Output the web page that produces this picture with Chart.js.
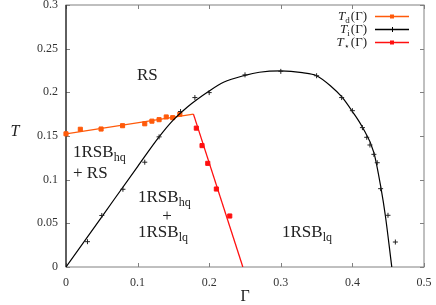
<!DOCTYPE html>
<html>
<head>
<meta charset="utf-8">
<script src="https://cdn.jsdelivr.net/npm/chart.js@4.4.1/dist/chart.umd.min.js"></script>
<style>
  html, body { margin: 0; padding: 0; background: #fff; }
  #wrap { width: 436px; height: 305px; }
</style>
</head>
<body>
<div id="wrap"><canvas id="c"></canvas></div>
<script>
// T_d(Γ): measured points and fitted line
const tdGamma = [0, 0.02, 0.049, 0.079, 0.11, 0.12, 0.13, 0.14, 0.149, 0.159];
const tdT = [0.1525, 0.1577, 0.158, 0.1618, 0.164, 0.167, 0.1687, 0.1718, 0.171, 0.175];
const tdFitGamma = [0, 0.178];
const tdFitT = [0.1525, 0.175];

// T_i(Γ): measured points and curve
const tiGamma = [0.03, 0.05, 0.0795, 0.11, 0.13, 0.16, 0.18, 0.2, 0.25, 0.3, 0.35, 0.385, 0.4,
  0.414, 0.42, 0.4245, 0.43, 0.4347, 0.4394, 0.4497, 0.46];
const tiT = [0.029, 0.059, 0.089, 0.12, 0.149, 0.178, 0.194, 0.1997, 0.22, 0.224, 0.219, 0.194, 0.179,
  0.1596, 0.1485, 0.1397, 0.129, 0.1194, 0.0897, 0.0592, 0.0286];
const tiFitGamma = [0, 0.05, 0.1, 0.13, 0.15, 0.17, 0.2, 0.22, 0.25, 0.27, 0.3, 0.33, 0.35,
  0.37, 0.385, 0.4, 0.414, 0.43, 0.44, 0.446, 0.455];
const tiFitT = [0, 0.0575, 0.115, 0.149, 0.1685, 0.1835, 0.2015, 0.2115, 0.2195, 0.223, 0.2245, 0.2225, 0.219,
  0.207, 0.195, 0.178, 0.16, 0.131, 0.09, 0.059, 0];

// T_*(Γ)
const tsGamma = [0.182, 0.19, 0.198, 0.21, 0.2287];
const tsT = [0.159, 0.139, 0.1187, 0.0893, 0.0584];
const tsFitGamma = [0.178, 0.247];
const tsFitT = [0.175, 0];

const xTicks = [0, 0.1, 0.2, 0.3, 0.4, 0.5];
const yTicks = [0, 0.05, 0.1, 0.15, 0.2, 0.25, 0.3];

const ORANGE = "#ff5a0a";
const RED = "#ff1010";
const SERIF = "'Liberation Serif', 'DejaVu Serif', serif";

const pts = (xs, ys) => xs.map((x, i) => ({ x, y: ys[i] }));

function drawSub(ctx, main, sub, x, y, size) {
  ctx.font = size + "px " + SERIF;
  ctx.fillText(main, x, y);
  const w = ctx.measureText(main).width;
  ctx.font = Math.round(size * 0.7) + "px " + SERIF;
  ctx.fillText(sub, x + w, y + size * 0.25);
}

const decorations = {
  id: "decorations",
  beforeDatasetsDraw(chart) {
    const { ctx, chartArea: a, scales } = chart;
    ctx.save();
    ctx.lineWidth = 1;
    ctx.strokeStyle = "#808080";
    ctx.strokeRect(a.left, a.top, a.right - a.left, a.bottom - a.top);
    ctx.beginPath();
    for (const v of xTicks) {
      const px = Math.round(scales.x.getPixelForValue(v)) + 0.5;
      ctx.moveTo(px, a.bottom); ctx.lineTo(px, a.bottom - 4);
      ctx.moveTo(px, a.top); ctx.lineTo(px, a.top + 4);
    }
    for (const v of yTicks) {
      const py = Math.round(scales.y.getPixelForValue(v)) + 0.5;
      ctx.moveTo(a.left, py); ctx.lineTo(a.left + 4, py);
      ctx.moveTo(a.right, py); ctx.lineTo(a.right - 4, py);
    }
    ctx.stroke();
    ctx.strokeStyle = "#000";
    ctx.beginPath();
    ctx.moveTo(a.left, a.top); ctx.lineTo(a.left, a.bottom);
    ctx.stroke();
    ctx.restore();
  },
  afterDatasetsDraw(chart) {
    const { ctx } = chart;
    ctx.save();
    ctx.fillStyle = "#222";
    ctx.textBaseline = "alphabetic";
    ctx.textAlign = "left";

    // region labels
    ctx.font = "17px " + SERIF;
    ctx.fillText("RS", 137, 80);
    drawSub(ctx, "1RSB", "hq", 73, 157, 17);
    ctx.font = "17px " + SERIF;
    ctx.fillText("+ RS", 73, 178);
    drawSub(ctx, "1RSB", "hq", 138, 202, 17);
    ctx.font = "17px " + SERIF;
    ctx.textAlign = "center";
    ctx.fillText("+", 167, 221);
    ctx.textAlign = "left";
    drawSub(ctx, "1RSB", "lq", 138, 237, 17);
    drawSub(ctx, "1RSB", "lq", 282, 237, 17);

    // axis titles
    ctx.textAlign = "center";
    ctx.textBaseline = "middle";
    ctx.font = "italic 16px " + SERIF;
    ctx.fillText("T", 15, 132);
    ctx.font = "16px " + SERIF;
    ctx.fillText("\u0393", 245, 297);

    // legend
    const rows = [
      { sub: "d", color: ORANGE, mark: "rect", y: 16 },
      { sub: "i", color: "#000", mark: "cross", y: 29 },
      { sub: "\u22c6", color: RED, mark: "rect", y: 42 },
    ];
    ctx.textBaseline = "alphabetic";
    ctx.textAlign = "left";
    for (const r of rows) {
      ctx.font = "italic 13px " + SERIF;
      const wT = ctx.measureText("T").width;
      ctx.font = "9px " + SERIF;
      const wS = ctx.measureText(r.sub).width;
      ctx.font = "13px " + SERIF;
      const wG = ctx.measureText("(\u0393)").width;
      let x = 367 - (wT + wS + wG + 1);
      const base = r.y + 4;
      ctx.fillStyle = "#222";
      ctx.font = "italic 13px " + SERIF;
      ctx.fillText("T", x, base);
      x += wT;
      ctx.font = "9px " + SERIF;
      ctx.fillText(r.sub, x, base + 3);
      x += wS + 1;
      ctx.font = "13px " + SERIF;
      ctx.fillText("(\u0393)", x, base);

      ctx.strokeStyle = r.color;
      ctx.lineWidth = 1.3;
      ctx.beginPath();
      ctx.moveTo(375, r.y + 0.5); ctx.lineTo(409, r.y + 0.5);
      ctx.stroke();
      ctx.fillStyle = r.color;
      if (r.mark === "rect") {
        ctx.fillRect(390, r.y - 1.5, 4, 4);
      } else {
        ctx.lineWidth = 1;
        ctx.beginPath();
        ctx.moveTo(392.5, r.y - 2); ctx.lineTo(392.5, r.y + 3);
        ctx.stroke();
      }
    }
    ctx.restore();
  },
};

new Chart(document.getElementById("c"), {
  type: "scatter",
  data: {
    datasets: [
      {
        data: pts(tsGamma, tsT),
        backgroundColor: RED,
        borderColor: RED,
        pointStyle: "rect",
        pointRadius: 2.9,
        clip: false,
      },
      {
        data: pts(tsFitGamma, tsFitT),
        showLine: true,
        borderColor: RED,
        borderWidth: 1.3,
        pointRadius: 0,
      },
      {
        data: pts(tiGamma, tiT),
        borderColor: "#222",
        pointStyle: "cross",
        pointRadius: 2.5,
        pointBorderWidth: 1,
        clip: false,
      },
      {
        data: pts(tiFitGamma, tiFitT),
        showLine: true,
        borderColor: "#000",
        borderWidth: 1.2,
        pointRadius: 0,
        cubicInterpolationMode: "monotone",
      },
      {
        data: pts(tdGamma, tdT),
        backgroundColor: ORANGE,
        borderColor: ORANGE,
        pointStyle: "rect",
        pointRadius: 2.9,
        clip: false,
      },
      {
        data: pts(tdFitGamma, tdFitT),
        showLine: true,
        borderColor: ORANGE,
        borderWidth: 1.3,
        pointRadius: 0,
      },
    ],
  },
  options: {
    responsive: true,
    maintainAspectRatio: false,
    animation: false,
    layout: { padding: { left: 0, right: 12, top: 5, bottom: 0 } },
    plugins: { legend: { display: false }, tooltip: { enabled: false } },
    scales: {
      x: {
        type: "linear",
        min: 0,
        max: 0.5,
        afterFit: (s) => {
          s.height = 38;
          s.paddingLeft = 0;
          s.paddingRight = 0;
        },
        afterBuildTicks: (s) => { s.ticks = xTicks.map((v) => ({ value: v })); },
        grid: { display: false, drawTicks: false },
        border: { display: false },
        ticks: {
          padding: 9,
          color: "#333",
          font: { family: SERIF, size: 12 },
          callback: (v) => String(parseFloat(v.toFixed(2))),
        },
      },
      y: {
        type: "linear",
        min: 0,
        max: 0.3,
        afterFit: (s) => {
          s.width = 66;
          s.paddingTop = 0;
          s.paddingBottom = 0;
        },
        afterBuildTicks: (s) => { s.ticks = yTicks.map((v) => ({ value: v })); },
        grid: { display: false, drawTicks: false },
        border: { display: false },
        ticks: {
          padding: 8,
          color: "#333",
          font: { family: SERIF, size: 12 },
          callback: (v) => String(parseFloat(v.toFixed(2))),
        },
      },
    },
  },
  plugins: [decorations],
});
</script>
</body>
</html>
